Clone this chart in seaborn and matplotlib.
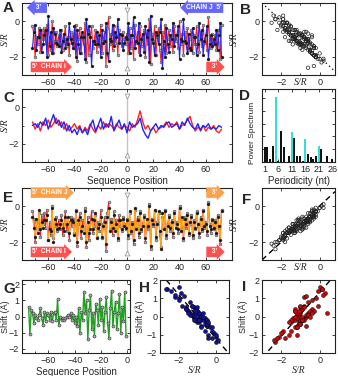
import numpy as np
import pandas as pd
import matplotlib
matplotlib.use("Agg")
import matplotlib.pyplot as plt
import seaborn as sns
from matplotlib.transforms import blended_transform_factory

# ---------------- data ----------------
positions = list(range(-72, 73))

chain_I = [-0.3, -0.7, -2.0, -0.9, -1.3, -0.4, -1.7, -0.5, -1.0, -0.4,
           -1.2, -0.2, -1.9, -0.9, -1.6, 0.0, -1.8, -1.1, -0.6, -1.4,
           -0.8, -1.3, -0.5, -1.6, -1.0, -0.3, -1.4, -0.9, -1.9, -0.6,
           -1.1, -0.7, -1.5, -0.2, -2.2, -1.0, -0.4, -1.8, -0.8, -1.3,
           -0.1, -2.3, -0.6, -1.9, -0.9, -0.3, -1.5, -1.1, -0.5, -1.7,
           -0.9, -1.4, -0.2, -1.8, -1.0, -0.6, -2.5, -0.4, 0.2, -1.3,
           -0.7, -1.6, -0.3, -1.2, -0.8, -1.9, -0.5, -1.1, -1.4, -0.6,
           -1.0, -1.3, -0.7, -1.8, -0.4, -1.5, -0.9, -2.1, -0.2, -1.2,
           -0.6, -1.7, -0.3, -1.4, -1.0, -0.5, -2.0, -0.8, -1.3, 0.1,
           -2.4, -0.7, -1.1, -0.3, -1.9, -0.9, -0.4, -1.6, -2.3, -0.6,
           -1.2, -0.2, -1.8, -1.0, -0.5, -1.4, -0.8, -1.7, -0.3, -1.1,
           -0.9, -1.5, 0.0, -1.3, -0.7, -1.9, -0.6, -1.2, -0.4, -1.6,
           -1.0, -0.5, -1.8, -0.8, -1.3, -0.3, -1.1, -1.7, -0.6, -1.4,
           -0.2, -1.2, -0.9, -1.6, 0.2, -1.0, -1.5, -0.7, -1.3, -0.8,
           -1.6, -0.5, -1.2, -2.1, -0.2]

chain_J_rev = [-1.5, -0.6, -0.2, -1.6, -0.9, -0.9, -0.5, -1.7, -1.3, -0.8,
               -0.5, -2.0, 0.3, -1.4, -0.6, -1.8, -0.4, -0.7, -1.2, -1.3,
               -1.4, -0.5, -1.7, -1.1, -0.7, -1.5, -1.0, -1.3, -0.1, -1.0,
               -1.2, -1.5, -0.3, -2.0, -0.5, -1.3, -1.8, -0.9, -0.6, -0.9,
               -2.1, 0.1, -0.7, -0.3, -0.9, -2.5, -1.1, -1.1, -1.3, -0.6,
               -1.3, -0.8, -2.0, -0.5, -1.2, -1.1, -0.1, -1.8, -2.2, -1.0,
               -1.1, -0.2, -1.4, -0.6, -0.9, 0.1, -1.2, -0.7, -0.8, -1.6,
               -1.2, -0.9, -1.0, -0.1, -1.8, -0.8, -0.8, 0.2, -1.5, -1.1,
               -1.2, -0.1, -1.9, -1.0, -0.7, -1.7, -0.3, -0.9, -0.5, -2.3,
               0.3, -1.0, -1.2, -1.9, -0.6, -0.8, -1.3, -0.6, 0.1, -2.6,
               -1.1, -2.0, -0.4, -1.3, -1.7, -0.8, -1.0, -0.1, -1.4, -0.8,
               -0.8, -0.3, -2.1, -1.0, -1.1, 0.1, -1.1, -1.2, -1.8, -0.7,
               -1.5, -1.6, -0.4, -0.9, -0.9, -1.9, -1.3, -0.1, -1.0, -0.5,
               -1.9, -1.1, -0.8, -0.3, -2.1, -1.3, -0.8, -1.4, -1.0, -1.3,
               -0.5, -1.6, -0.8, -0.1, -2.0]

chain_J_fwd = [-0.6, -1.2, -1.7, -0.7, -1.5, -0.2, -1.3, -0.9, -1.2, -0.8,
               -0.8, -0.5, -1.9, -1.3, -1.4, -0.1, -2.0, -0.7, -1.0, -1.3,
               -1.2, -1.0, -0.8, -1.2, -1.4, -0.6, -1.0, -0.6, -1.5, -0.8,
               -0.8, -0.9, -1.6, -0.3, -2.0, -0.8, -0.6, -1.4, -1.1, -1.5,
               -0.3, -2.0, -0.9, -1.5, -1.3, -0.7, -1.3, -0.8, -0.4, -1.8,
               -1.2, -1.0, -0.6, -1.7, -1.1, -0.9, -2.1, -0.6, -0.1, -1.4,
               -0.9, -1.2, -0.5, -1.4, -1.0, -1.8, -0.8, -0.8, -1.3, -0.7,
               -1.1, -1.2, -0.8, -1.6, -0.3, -1.4, -1.0, -1.9, -0.1, -1.3,
               -0.8, -1.5, -0.4, -1.3, -1.1, -0.6, -1.8, -0.7, -1.1, 0.0,
               -2.2, -0.8, -1.0, -0.2, -1.7, -1.0, -0.3, -1.4, -2.4, -0.4,
               -1.3, -0.3, -1.6, -1.1, -0.6, -1.2, -0.9, -1.5, -0.4, -1.2,
               -1.0, -1.3, -0.1, -1.4, -0.6, -1.8, -0.7, -1.0, -0.5, -1.5,
               -0.9, -0.6, -1.6, -0.9, -1.2, -0.4, -1.0, -1.5, -0.7, -1.3,
               -0.3, -1.1, -1.0, -1.4, 0.1, -1.1, -1.3, -0.8, -1.2, -0.9,
               -1.5, -0.6, -1.1, -1.9, -0.3]

c_positions = list(range(-72, 73, 2))
c_red = [-0.8, -1.2, -0.9, -1.3, -0.8, -1.0, -0.7, -1.1, -0.9, -0.6,
         -1.0, -0.8, -1.2, -0.9, -1.3, -1.1, -0.9, -1.2, -1.0, -1.4,
         -1.1, -1.3, -0.9, -1.2, -1.4, -1.0, -1.2, -0.8, -1.1, -0.9,
         -1.0, -1.2, -0.9, -1.1, -1.2, -1.0, -1.1, -1.3, -0.9, -1.1,
         -0.7, -0.2, -0.8, -1.2, -1.0, -1.3, -1.1, -1.4, -1.2, -1.1,
         -1.0, -0.8, -1.1, -0.9, -1.0, -0.8, -1.2, -1.0, -0.9, -0.7,
         -0.5, -1.0, -1.3, -1.1, -1.2, -1.0, -1.3, -1.1, -1.2, -1.0,
         -1.3, -1.4, -1.2]
c_blue = [-1.0, -0.9, -1.1, -0.8, -1.0, -0.6, -1.2, -0.8, -0.4, -0.9,
          -0.7, -1.1, -0.8, -1.3, -1.0, -1.4, -1.2, -1.5, -1.1, -1.4,
          -1.2, -1.5, -1.0, -0.7, -1.3, -1.0, -0.6, -1.2, -0.9, -1.1,
          -0.5, -1.3, -1.0, -0.7, -1.2, -0.9, -1.4, -0.8, -1.1, -1.0,
          -0.9, -0.6, -1.2, -1.5, -1.7, -1.3, -1.1, -0.9, -1.2, -1.0,
          -1.1, -0.9, -0.8, -1.1, -1.0, -0.9, -1.2, -0.8, -1.0, -0.6,
          -0.9, -1.1, -1.2, -0.9, -1.3, -1.0, -1.1, -0.9, -1.2, -1.1,
          -1.2, -1.0, -1.1]

periods = [1, 2, 3, 4, 5, 6, 7, 8, 10, 11, 12, 13, 14, 15, 16, 17, 18, 19, 20, 21, 22, 24, 26]
power = [1.2, 1.2, 0.25, 1.25, 5.1, 0.1, 2.45, 1.2, 0.45, 2.35, 1.9, 0.5, 0.5, 0.1,
         1.8, 0.65, 0.4, 0.2, 0.5, 1.25, 1.0, 0.45, 0.2]
helical = [False, False, False, False, True, False, False, False, False, True, False, False,
           False, False, True, False, False, False, False, True, False, False, False]

g_positions = list(range(-75, 0))
shift = [0.6, -1.1, 0.4, 0.2, -0.4, 0.1, -0.1, -0.2, 0.1, 0.5,
         -0.1, -0.5, 0.3, -0.3, 0.2, 0.1, -0.2, 0.3, -0.3, 0.2,
         0.3, -0.2, 1.05, -0.55, 0.0, -0.2, -0.1, -0.2, -0.1, 0.0,
         0.1, 0.0, 0.2, -0.2, 0.1, -0.4, 0.0, -0.6, 0.5, -1.0,
         0.3, -0.2, 1.5, 0.2, 1.0, -1.4, 0.4, 1.3, -0.8, 0.2,
         -1.2, 0.8, 0.4, -0.5, 1.1, -0.2, 0.6, -0.9, 0.3, 1.2,
         -0.4, -1.3, 0.5, 1.6, -0.6, 0.3, 0.9, -0.8, 0.2, 1.4,
         -1.0, 0.6, -0.3, 1.5, -1.2]
sr_h = [-1.3, 0.0, -1.6, -1.0, -0.4, -1.3, -0.7, -1.1, -0.8, -1.6,
        -1.2, -0.5, -1.0, -1.0, -1.4, -0.9, -0.6, -1.5, -0.9, -1.1,
        -1.0, -1.0, -2.2, -0.3, -1.2, -0.7, -1.1, -0.9, -0.6, -0.8,
        -1.3, -1.1, -0.9, -0.5, -1.4, -0.6, -0.7, -0.2, -1.2, -0.4,
        -1.5, -0.9, -2.6, -0.9, -2.0, 0.0, -1.1, -1.9, -0.6, -1.5,
        -0.2, -1.4, -1.6, -0.8, -1.7, -1.2, -1.8, -0.1, -1.0, -2.2,
        -0.5, 0.1, -1.0, -2.0, -0.8, -1.1, -2.0, -0.2, -0.7, -2.4,
        0.0, -1.3, -0.4, -2.7, -0.4]
sr_i = [-0.8, -2.1, -0.4, -1.1, -1.0, -1.2, -0.8, -1.4, -0.6, -0.9,
        -1.3, -1.2, -1.0, -1.5, -0.6, -1.1, -0.9, -0.5, -1.1, -1.0,
        -1.3, -1.3, -0.8, -1.2, -0.7, -1.0, -1.4, -0.9, -1.2, -1.3,
        -0.7, -0.9, -1.1, -1.5, -0.6, -1.1, -0.5, -1.3, -1.0, -1.2,
        -0.3, -0.8, 0.1, -0.4, -0.2, -2.3, -0.9, 0.3, -1.9, -1.2,
        -1.8, -0.6, -1.3, -0.7, -0.7, -0.9, -0.1, -2.0, -1.1, 0.2,
        -1.0, -2.4, -0.8, 0.0, -1.2, -1.3, -0.4, -1.5, 0.4, -0.1,
        -1.6, -1.0, -1.6, 0.1, -2.2]

# ---------------- style ----------------
sns.set_style("ticks")
plt.rcParams["font.family"] = ["Liberation Sans", "DejaVu Sans"]
plt.rcParams["font.size"] = 6.5

W, H = 338, 376
fig = plt.figure(figsize=(W / 100, H / 100), dpi=100)


def rect(l, t, r, b):
    return [l / W, 1 - b / H, (r - l) / W, (b - t) / H]


def style(ax):
    for s in ax.spines.values():
        s.set_linewidth(0.8)
        s.set_color("#222222")
    ax.tick_params(which="both", direction="in", top=True, right=True,
                   labelsize=6.5, width=0.6, color="#222222", pad=2)
    ax.tick_params(which="major", length=2.5)
    ax.tick_params(which="minor", length=1.5)


def serif_label(ax, axis, pad=1, coords=None):
    kw = dict(fontfamily="Liberation Serif", style="italic", fontsize=7)
    if axis == "y":
        ax.set_ylabel("S/R", labelpad=pad, **kw)
        if coords is not None:
            ax.yaxis.set_label_coords(coords, 0.5)
    else:
        ax.set_xlabel("S/R", labelpad=pad, **kw)


def inline_sr(ax):
    tr = blended_transform_factory(ax.transData, ax.transAxes)
    ax.text(-1, -0.045, "S/R", transform=tr, ha="center", va="top",
            fontfamily="Liberation Serif", style="italic", fontsize=7)


def seq_axes(ax):
    style(ax)
    ax.set_xlim(-80, 80)
    ax.set_ylim(-3, 1)
    ax.set_xticks([-60, -40, -20, 0, 20, 40, 60])
    ax.set_xticks(list(range(-70, 80, 10)), minor=True)
    ax.set_yticks([-2, 0])
    ax.set_yticks([-1], minor=True)
    ax.set_xlabel("")
    serif_label(ax, "y", coords=-0.06)


def center_mark(ax):
    ax.plot([0, 0], [0.6, -2.6], color="#c4c4c4", lw=1.0, zorder=1)
    ax.plot([0], [0.6], marker="v", ms=3.5, mfc="white", mec="#999999", mew=0.6, zorder=6)
    ax.plot([0], [-2.6], marker="^", ms=3.5, mfc="white", mec="#999999", mew=0.6, zorder=6)


def arrow(ax, x, y, s, color, kind, ha):
    ax.text(x, y, s, ha=ha, va="center", color="white", fontsize=4.8, fontweight="bold",
            bbox=dict(boxstyle=f"{kind},pad=0.26", fc=color, ec="none"), zorder=7)


def seq_line(ax, y, color, mfc, x=positions, lw=0.8, marker=True):
    kws = dict(x=x, y=y, ax=ax, color=color, linewidth=lw, estimator=None, sort=False)
    if marker:
        kws.update(marker="o", markersize=2.1, markerfacecolor=mfc,
                   markeredgecolor="#333333", markeredgewidth=0.3)
    sns.lineplot(**kws)


def open_scatter(ax, x, y):
    sns.scatterplot(x=x, y=y, ax=ax, color="k", s=6, linewidth=0.5)
    coll = ax.collections[-1]
    coll.set_facecolor("none")
    coll.set_edgecolor("#222222")
    coll.set_linewidth(0.5)


RED = "#ff1f1f"
BLUE = "#2323ff"
ORANGE = "#ffaa10"

# ---------------- A ----------------
axA = fig.add_axes(rect(22, 3, 232, 75))
center_mark(axA)
seq_line(axA, chain_I, RED, "#a0a0a0")
seq_line(axA, chain_J_rev, BLUE, "#111111")
seq_axes(axA)
arrow(axA, -72, 0.74, "  3'  ", "#6565ff", "larrow", "left")
arrow(axA, 72, 0.74, "CHAIN J  5'", "#6565ff", "larrow", "right")
arrow(axA, -72, -2.55, "5'  CHAIN I", "#ff5050", "rarrow", "left")
arrow(axA, 70, -2.55, "  3' ", "#ff5050", "rarrow", "right")

# ---------------- B ----------------
axB = fig.add_axes(rect(262, 3, 335, 75))
open_scatter(axB, chain_I, chain_J_rev)
style(axB)
axB.set_xlim(-3, 0.8)
axB.set_ylim(-3, 1)
axB.plot([-3, 0.8], [1, -2.8], color="k", lw=0.9, ls=(0, (1, 2.5)), zorder=0)
axB.set_xticks([-2, 0]); axB.set_xticks([-3, -1], minor=True)
axB.set_yticks([-2, 0]); axB.set_yticks([-1], minor=True)
axB.set_xlabel("")
serif_label(axB, "y", coords=-0.32)
inline_sr(axB)

# ---------------- C ----------------
axC = fig.add_axes(rect(22, 89, 232, 162))
center_mark(axC)
seq_line(axC, c_red, RED, None, x=c_positions, lw=1.0, marker=False)
seq_line(axC, c_blue, BLUE, None, x=c_positions, lw=1.0, marker=False)
seq_axes(axC)
axC.set_xlabel("Sequence Position", fontsize=7, labelpad=1.5)

# ---------------- D ----------------
axD = fig.add_axes(rect(262, 89, 335, 162))
bar_colors = ["#30e0d6" if h else "#111111" for h in helical]
axD.bar(periods, power, width=0.75, color=bar_colors, linewidth=0)
style(axD)
axD.set_xlim(0, 27)
axD.set_ylim(0, 5.7)
axD.set_xticks([1, 6, 11, 16, 21, 26])
axD.set_yticks([1, 2, 3, 4, 5])
axD.set_yticklabels([])
axD.set_xlabel("Periodicity (nt)", fontsize=7, labelpad=1.5)
axD.set_ylabel("Power Spectrum", fontsize=6.0, labelpad=1)
axD.yaxis.set_label_coords(-0.08, 0.40)

# ---------------- E ----------------
axE = fig.add_axes(rect(22, 188, 232, 260))
center_mark(axE)
seq_line(axE, chain_I, RED, "#a0a0a0")
seq_line(axE, chain_J_fwd, ORANGE, "#111111")
seq_axes(axE)
arrow(axE, -72, 0.74, "5'  CHAIN J", "#ffa04a", "rarrow", "left")
arrow(axE, 70, 0.74, "  3' ", "#ffa04a", "rarrow", "right")
arrow(axE, -72, -2.55, "5'  CHAIN I", "#ff5050", "rarrow", "left")
arrow(axE, 70, -2.55, "  3' ", "#ff5050", "rarrow", "right")

# ---------------- F ----------------
axF = fig.add_axes(rect(262, 188, 335, 260))
open_scatter(axF, chain_I, chain_J_fwd)
style(axF)
axF.set_xlim(-3, 0.8)
axF.set_ylim(-3, 1)
axF.plot([-3, 0.8], [-3, 0.8], color="k", lw=1.0, ls=(0, (4, 3)), zorder=0)
axF.set_xticks([-2, 0]); axF.set_xticks([-3, -1], minor=True)
axF.set_yticks([-2, 0]); axF.set_yticks([-1], minor=True)
axF.set_xlabel("")
serif_label(axF, "y", coords=-0.32)
inline_sr(axF)

# ---------------- G ----------------
axG = fig.add_axes(rect(22, 280, 130, 353))
sns.lineplot(x=g_positions, y=shift, ax=axG, color="#22a022", linewidth=1.0,
             marker="o", markersize=2.2, markerfacecolor="#a8a8a8",
             markeredgecolor="#333333", markeredgewidth=0.4, estimator=None, sort=False)
style(axG)
axG.set_xlim(-80, 2)
axG.set_ylim(-2.25, 2.25)
axG.set_xticks([-60, -40, -20, 0]); axG.set_xticks([-70, -50, -30, -10], minor=True)
axG.set_yticks([-2, -1, 0, 1, 2])
axG.set_xlabel("Sequence Position", fontsize=7, labelpad=1.5)
axG.set_ylabel("Shift (Å)", fontsize=6.5, labelpad=1)
axG.yaxis.set_label_coords(-0.115, 0.5)

# ---------------- H ----------------
axH = fig.add_axes(rect(160, 280, 229, 353))
sns.scatterplot(x=sr_h, y=shift, ax=axH, color="#14149a", edgecolor="#000000",
                linewidth=0.35, s=8, zorder=3)
style(axH)
axH.set_xlim(-3, 0.7)
axH.set_ylim(-2, 2)
axH.plot([-3, 0.7], [-1.2 * (-3 + 1), -1.2 * (0.7 + 1)], color="k", lw=1.0,
         ls=(0, (4, 3)), zorder=2)
axH.set_xticks([-2, 0]); axH.set_xticks([-3, -1], minor=True)
axH.set_yticks([-2, -1, 0, 1, 2])
serif_label(axH, "x", pad=1)
axH.set_ylabel("Shift (Å)", fontsize=6.5, labelpad=1)
axH.yaxis.set_label_coords(-0.22, 0.5)

# ---------------- I ----------------
axI = fig.add_axes(rect(262, 280, 335, 353))
sns.scatterplot(x=sr_i, y=shift, ax=axI, color="#cc0a0a", edgecolor="#000000",
                linewidth=0.35, s=8, zorder=3)
style(axI)
axI.set_xlim(-3, 0.8)
axI.set_ylim(-2, 2)
axI.plot([-3, 0.8], [1.2 * (-3 + 1.1), 1.2 * (0.8 + 1.1)], color="k", lw=1.0,
         ls=(0, (4, 3)), zorder=2)
axI.set_xticks([-2, 0]); axI.set_xticks([-3, -1], minor=True)
axI.set_yticks([-2, -1, 0, 1, 2])
serif_label(axI, "x", pad=1)
axI.set_ylabel("Shift (Å)", fontsize=6.5, labelpad=1)
axI.yaxis.set_label_coords(-0.19, 0.5)

# ---------------- panel letters ----------------
letters = [("A", 3, 8), ("B", 240, 10), ("C", 3, 98), ("D", 239, 96),
           ("E", 3, 198), ("F", 242, 200), ("G", 3, 289), ("H", 139, 288), ("I", 242, 287)]
for s, x, y in letters:
    fig.text(x / W, 1 - y / H, s, ha="left", va="center", fontsize=11, fontweight="bold")

fig.savefig("out.png", dpi=100)
